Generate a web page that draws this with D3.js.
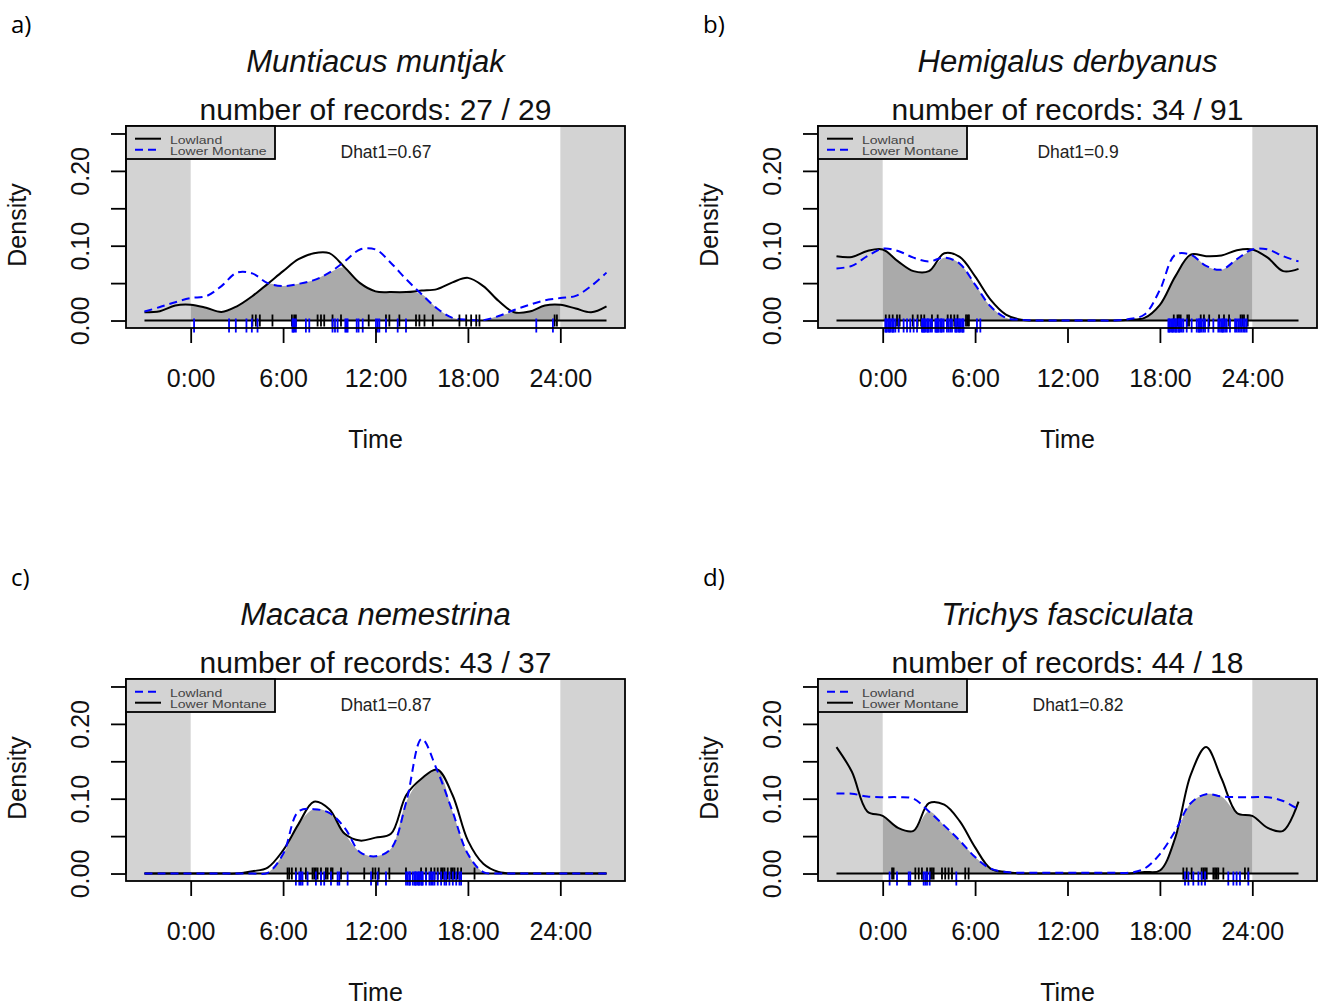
<!DOCTYPE html>
<html>
<head>
<meta charset="utf-8">
<script src="https://cdn.jsdelivr.net/npm/d3@7"></script>
<style>
  body { margin: 0; background: #fff; }
</style>
</head>
<body>
<div id="chart"></div>
<script>
// hours of the density grid (clock time, extended 3h each side)
var hours = [-3, -2, -1, 0, 1, 2, 3, 4, 5, 6, 7, 8, 9, 10, 11, 12, 13, 14, 15, 16, 17, 18, 19, 20, 21, 22, 23, 24, 25, 26, 27];
var hourTicks = [0, 6, 12, 18, 24];
var densityTicks = [0, 0.05, 0.10, 0.15, 0.20, 0.25];

// a) Muntiacus muntjak
var aLowland = [0.011, 0.0125, 0.020, 0.021, 0.017, 0.0115, 0.019, 0.0325, 0.049, 0.066, 0.082, 0.090, 0.090, 0.071, 0.050, 0.039, 0.038, 0.038, 0.040, 0.042, 0.051, 0.057, 0.046, 0.026, 0.011, 0.012, 0.020, 0.021, 0.016, 0.011, 0.019];
var aMontane = [0.012, 0.018, 0.0245, 0.030, 0.0325, 0.046, 0.064, 0.063, 0.050, 0.046, 0.049, 0.054, 0.064, 0.079, 0.095, 0.095, 0.077, 0.055, 0.035, 0.016, 0.0036, 0.001, 0.0005, 0.006, 0.014, 0.021, 0.027, 0.030, 0.033, 0.046, 0.064];
var aRugBlack = [4.01, 4.23, 4.49, 5.31, 6.57, 6.72, 6.83, 8.24, 8.46, 8.67, 9.21, 9.76, 11.56, 12.68, 12.9, 13.55, 14.63, 14.85, 15.18, 15.72, 17.45, 17.89, 18.21, 18.54, 18.75, 23.63, 23.78];
var aRugBlue = [0.22, 2.49, 2.93, 3.62, 3.97, 4.34, 6.61, 6.66, 6.72, 6.83, 7.48, 7.70, 9.21, 9.37, 9.54, 10.04, 10.12, 10.19, 10.78, 10.9, 11.17, 12.03, 12.14, 12.25, 12.68, 13.44, 13.98, 22.44, 23.52];

// b) Hemigalus derbyanus
var bLowland = [0.086, 0.085, 0.093, 0.095, 0.079, 0.066, 0.066, 0.090, 0.085, 0.059, 0.028, 0.008, 0.001, 0, 0, 0, 0, 0, 0, 0.001, 0.0035, 0.021, 0.059, 0.088, 0.086, 0.087, 0.094, 0.095, 0.084, 0.066, 0.069];
var bMontane = [0.0695, 0.073, 0.086, 0.096, 0.093, 0.084, 0.079, 0.084, 0.076, 0.048, 0.019, 0.0036, 0.001, 0, 0, 0, 0, 0, 0, 0.002, 0.008, 0.041, 0.088, 0.088, 0.073, 0.068, 0.082, 0.095, 0.095, 0.086, 0.079];
var bRugBlack = [0.2, 0.43, 0.65, 0.93, 1.1, 1.95, 2.27, 2.5, 2.70, 3.2, 3.57, 4.22, 4.43, 4.65, 4.86, 5.41, 5.51, 5.6, 18.9, 19.14, 19.24, 19.35, 19.78, 19.89, 20.65, 20.86, 21.2, 21.84, 22.16, 22.49, 23.24, 23.35, 23.46, 23.7];
var bRugBlue = [0.17, 0.22, 0.28, 0.39, 0.44, 0.50, 0.61, 0.66, 0.71, 0.82, 1.04, 1.36, 1.58, 1.79, 2.01, 2.23, 2.55, 2.60, 2.66, 2.71,
    2.77, 2.88, 2.93, 2.98, 3.09, 3.20, 3.42, 3.47, 3.52, 3.58, 3.63, 3.74, 3.80, 3.85, 3.96, 4.17, 4.28, 4.39, 4.50, 4.71,
    4.76, 4.82, 4.93, 4.98, 5.04, 5.15, 5.20, 5.25, 6.12, 6.34, 18.55, 18.60, 18.66, 18.77, 18.82, 18.88, 18.98, 19.04, 19.09, 19.20,
    19.25, 19.31, 19.42, 19.52, 19.74, 20.06, 20.39, 20.50, 20.55, 20.61, 20.71, 20.82, 20.93, 21.15, 21.47, 21.79, 21.90, 22.01, 22.07, 22.12,
    22.23, 22.34, 22.55, 22.88, 22.98, 23.09, 23.20, 23.31, 23.42, 23.52, 23.63];

// c) Macaca nemestrina
var cLowland = [0, 0, 0, 0, 0, 0, 0, 0, 0.001, 0.026, 0.083, 0.086, 0.081, 0.061, 0.0285, 0.023, 0.033, 0.096, 0.180, 0.138, 0.083, 0.026, 0.002, 0, 0, 0, 0, 0, 0, 0, 0];
var cMontane = [0, 0, 0, 0, 0, 0, 0, 0.003, 0.008, 0.031, 0.066, 0.096, 0.086, 0.053, 0.044, 0.048, 0.053, 0.105, 0.127, 0.139, 0.105, 0.044, 0.013, 0.002, 0, 0, 0, 0, 0, 0, 0];
var cRugBlack = [6.29, 6.40, 6.57, 6.83, 7.15, 7.48, 7.91, 8.02, 8.13, 8.24, 8.46, 8.78, 8.89, 9.11, 9.21, 9.76, 11.27, 11.82, 11.99, 12.21, 12.90, 13.98, 14.96, 15.28, 15.61, 15.83, 16.04, 16.26, 16.37, 16.48, 16.69, 16.91, 17.02, 17.13, 17.34, 17.56, 18.43];
var cRugBlue = [6.83, 7.05, 7.15, 7.26, 7.59, 8.13, 8.46, 8.67, 9.11, 9.54, 9.65, 10.19, 11.71, 12.14, 12.68, 13.98, 14.09, 14.20, 14.24, 14.42, 14.53, 14.59, 14.63, 14.74, 14.81, 14.85, 14.96, 15.02, 15.07, 15.28, 15.50, 15.61, 15.72, 15.83, 16.04, 16.26, 16.48, 16.59, 16.80, 17.02, 17.24, 17.45, 17.56];

// d) Trichys fasciculata
var dLowland = [0.107, 0.1066, 0.103, 0.102, 0.102, 0.100, 0.083, 0.064, 0.044, 0.022, 0.0066, 0.002, 0.001, 0.001, 0.001, 0.001, 0.001, 0.001, 0.001, 0.001, 0.0066, 0.026, 0.057, 0.094, 0.106, 0.103, 0.102, 0.102, 0.102, 0.097, 0.0855];
var dMontane = [0.169, 0.136, 0.083, 0.077, 0.061, 0.057, 0.094, 0.092, 0.070, 0.035, 0.0066, 0.002, 0, 0, 0, 0, 0, 0, 0, 0, 0.002, 0.004, 0.048, 0.132, 0.169, 0.127, 0.081, 0.077, 0.061, 0.057, 0.096];
var dRugBlack = [0.61, 0.71, 2.12, 2.34, 2.55, 2.88, 3.09, 3.20, 3.31, 3.85, 4.06, 4.28, 4.50, 5.36, 5.58, 19.52, 19.74, 20.06, 20.71, 20.82, 20.93, 21.04, 21.47, 21.58, 21.69, 21.79, 22.12, 23.52, 23.74];
var dRugBlue = [0.45, 0.93, 1.69, 1.79, 2.66, 2.77, 2.88, 3.05, 4.78, 19.63, 19.85, 20.17, 20.50, 20.71, 20.93, 22.44, 22.77, 22.98, 23.20, 23.74];

var panels = [
    { tag: "a)", title: "Muntiacus muntjak", records: "27 / 29", dhat: "0.67", black: aLowland, blue: aMontane,
      rugBlack: aRugBlack, rugBlue: aRugBlue, legend: [["Lowland", "black"], ["Lower Montane", "blue"]], ox: 0, oy: 0 },
    { tag: "b)", title: "Hemigalus derbyanus", records: "34 / 91", dhat: "0.9", black: bLowland, blue: bMontane,
      rugBlack: bRugBlack, rugBlue: bRugBlue, legend: [["Lowland", "black"], ["Lower Montane", "blue"]], ox: 692, oy: 0 },
    { tag: "c)", title: "Macaca nemestrina", records: "43 / 37", dhat: "0.87", black: cMontane, blue: cLowland,
      rugBlack: cRugBlack, rugBlue: cRugBlue, legend: [["Lowland", "blue"], ["Lower Montane", "black"]], ox: 0, oy: 553 },
    { tag: "d)", title: "Trichys fasciculata", records: "44 / 18", dhat: "0.82", black: dMontane, blue: dLowland,
      rugBlack: dRugBlack, rugBlue: dRugBlue, legend: [["Lowland", "blue"], ["Lower Montane", "black"]], ox: 692, oy: 553 }
];

var font = "'Liberation Sans', Arial, sans-serif";
var box = { left: 126, right: 625, top: 126, bottom: 328 };

var svg = d3.select("#chart").append("svg")
    .attr("width", 1319)
    .attr("height", 1005)
    .style("background", "#fff");

var x = d3.scaleLinear().domain([-4.2, 28.2]).range([box.left, box.right]);
var y = d3.scaleLinear().domain([-0.01, 0.26]).range([box.bottom, box.top]);

var line = d3.line()
    .curve(d3.curveCatmullRom.alpha(0.5))
    .x(function(d) { return x(d[0]); })
    .y(function(d) { return y(d[1]); });

var area = d3.area()
    .curve(d3.curveCatmullRom.alpha(0.5))
    .x(function(d) { return x(d[0]); })
    .y0(y(0))
    .y1(function(d) { return y(d[1]); });

panels.forEach(function(p) {
    var g = svg.append("g").attr("transform", "translate(" + p.ox + "," + p.oy + ")");

    // night shading outside 0-24h
    g.append("rect")
        .attr("x", x(-4.2)).attr("y", box.top)
        .attr("width", x(0) - x(-4.2)).attr("height", box.bottom - box.top)
        .attr("fill", "#d3d3d3");
    g.append("rect")
        .attr("x", x(24)).attr("y", box.top)
        .attr("width", x(28.2) - x(24)).attr("height", box.bottom - box.top)
        .attr("fill", "#d3d3d3");

    var blackPts = hours.map(function(h, i) { return [h, p.black[i]]; });
    var bluePts = hours.map(function(h, i) { return [h, p.blue[i]]; });
    var overlapPts = hours.map(function(h, i) { return [h, Math.min(p.black[i], p.blue[i])]; })
        .filter(function(d) { return d[0] >= 0 && d[0] <= 24; });

    g.append("path")
        .datum(overlapPts)
        .attr("fill", "#aaaaaa")
        .attr("d", area);

    // baseline at zero
    g.append("line")
        .attr("x1", x(-3)).attr("x2", x(27))
        .attr("y1", y(0)).attr("y2", y(0))
        .attr("stroke", "#000")
        .attr("stroke-width", 2);

    g.append("path")
        .datum(blackPts)
        .attr("fill", "none")
        .attr("stroke", "#000")
        .attr("stroke-width", 2)
        .attr("d", line);

    g.append("path")
        .datum(bluePts)
        .attr("fill", "none")
        .attr("stroke", "#0000ff")
        .attr("stroke-width", 2)
        .attr("stroke-dasharray", "8,5")
        .attr("d", line);

    // rug marks
    g.append("g").selectAll("line")
        .data(p.rugBlack)
        .enter().append("line")
        .attr("x1", function(d) { return x(d); })
        .attr("x2", function(d) { return x(d); })
        .attr("y1", y(0) - 6)
        .attr("y2", y(0) + 6)
        .attr("stroke", "#000")
        .attr("stroke-width", 1.8);

    g.append("g").selectAll("line")
        .data(p.rugBlue)
        .enter().append("line")
        .attr("x1", function(d) { return x(d); })
        .attr("x2", function(d) { return x(d); })
        .attr("y1", y(0) - 2)
        .attr("y2", y(0) + 12)
        .attr("stroke", "#0000ff")
        .attr("stroke-width", 1.8);

    // frame
    g.append("rect")
        .attr("x", box.left).attr("y", box.top)
        .attr("width", box.right - box.left).attr("height", box.bottom - box.top)
        .attr("fill", "none")
        .attr("stroke", "#000")
        .attr("stroke-width", 1.8);

    // x axis
    var xa = g.append("g")
        .attr("transform", "translate(0," + box.bottom + ")")
        .call(d3.axisBottom(x)
            .tickValues(hourTicks)
            .tickFormat(function(d) { return d + ":00"; })
            .tickSize(15)
            .tickSizeOuter(0)
            .tickPadding(26));
    xa.select(".domain").remove();
    xa.selectAll("line").attr("stroke-width", 1.8);
    xa.selectAll("text")
        .attr("font-family", font)
        .attr("font-size", 25)
        .attr("fill", "#111");

    // y axis
    var ya = g.append("g")
        .attr("transform", "translate(" + box.left + ",0)")
        .call(d3.axisLeft(y)
            .tickValues(densityTicks)
            .tickFormat(function(d) {
                return Math.round(d * 100) % 10 === 0 ? d3.format(".2f")(d) : "";
            })
            .tickSize(15)
            .tickSizeOuter(0));
    ya.select(".domain")
        .attr("d", "M0," + y(0) + "V" + y(0.25))
        .attr("stroke-width", 1.8);
    ya.selectAll("line").attr("stroke-width", 1.8);
    ya.selectAll("text")
        .attr("x", 0)
        .attr("dy", 0)
        .attr("transform", "translate(-37,0) rotate(-90)")
        .attr("text-anchor", "middle")
        .attr("font-family", font)
        .attr("font-size", 25)
        .attr("fill", "#111");

    // axis titles
    g.append("text")
        .attr("x", (box.left + box.right) / 2)
        .attr("y", 448)
        .attr("text-anchor", "middle")
        .attr("font-family", font)
        .attr("font-size", 25)
        .attr("fill", "#111")
        .text("Time");

    g.append("text")
        .attr("transform", "translate(26," + ((box.top + box.bottom) / 2 - 2) + ") rotate(-90)")
        .attr("text-anchor", "middle")
        .attr("font-family", font)
        .attr("font-size", 25)
        .attr("fill", "#111")
        .text("Density");

    // titles
    g.append("text")
        .attr("x", (box.left + box.right) / 2)
        .attr("y", 72)
        .attr("text-anchor", "middle")
        .attr("font-family", font)
        .attr("font-style", "italic")
        .attr("font-size", 31)
        .attr("fill", "#111")
        .text(p.title);

    g.append("text")
        .attr("x", (box.left + box.right) / 2)
        .attr("y", 120)
        .attr("text-anchor", "middle")
        .attr("font-family", font)
        .attr("font-size", 30)
        .attr("fill", "#111")
        .text("number of records: " + p.records);

    g.append("text")
        .attr("x", 11)
        .attr("y", 33)
        .attr("font-family", "'Open Sans', 'Noto Sans', sans-serif")
        .attr("font-size", 24)
        .attr("font-weight", 500)
        .attr("fill", "#000")
        .text(p.tag);

    // overlap coefficient
    g.append("text")
        .attr("x", box.left + 260)
        .attr("y", 158)
        .attr("text-anchor", "middle")
        .attr("font-family", font)
        .attr("font-size", 17.5)
        .attr("fill", "#222")
        .text("Dhat1=" + p.dhat);

    // legend
    var lg = g.append("g");
    lg.append("rect")
        .attr("x", box.left).attr("y", box.top)
        .attr("width", 149).attr("height", 33)
        .attr("fill", "#d3d3d3")
        .attr("stroke", "#000")
        .attr("stroke-width", 1.8);

    var item = lg.selectAll(".item")
        .data(p.legend)
        .enter().append("g")
        .attr("class", "item")
        .attr("transform", function(d, i) { return "translate(0," + (138.7 + i * 11) + ")"; });

    item.append("line")
        .attr("x1", 135).attr("x2", 161)
        .attr("stroke", function(d) { return d[1] === "blue" ? "#0000ff" : "#000"; })
        .attr("stroke-width", 2)
        .attr("stroke-dasharray", function(d) { return d[1] === "blue" ? "8,5" : null; });

    item.append("text")
        .attr("transform", "translate(170,5) scale(1.22,1)")
        .attr("font-family", font)
        .attr("font-size", 11.5)
        .attr("fill", "#444")
        .text(function(d) { return d[0]; });
});
</script>
</body>
</html>
